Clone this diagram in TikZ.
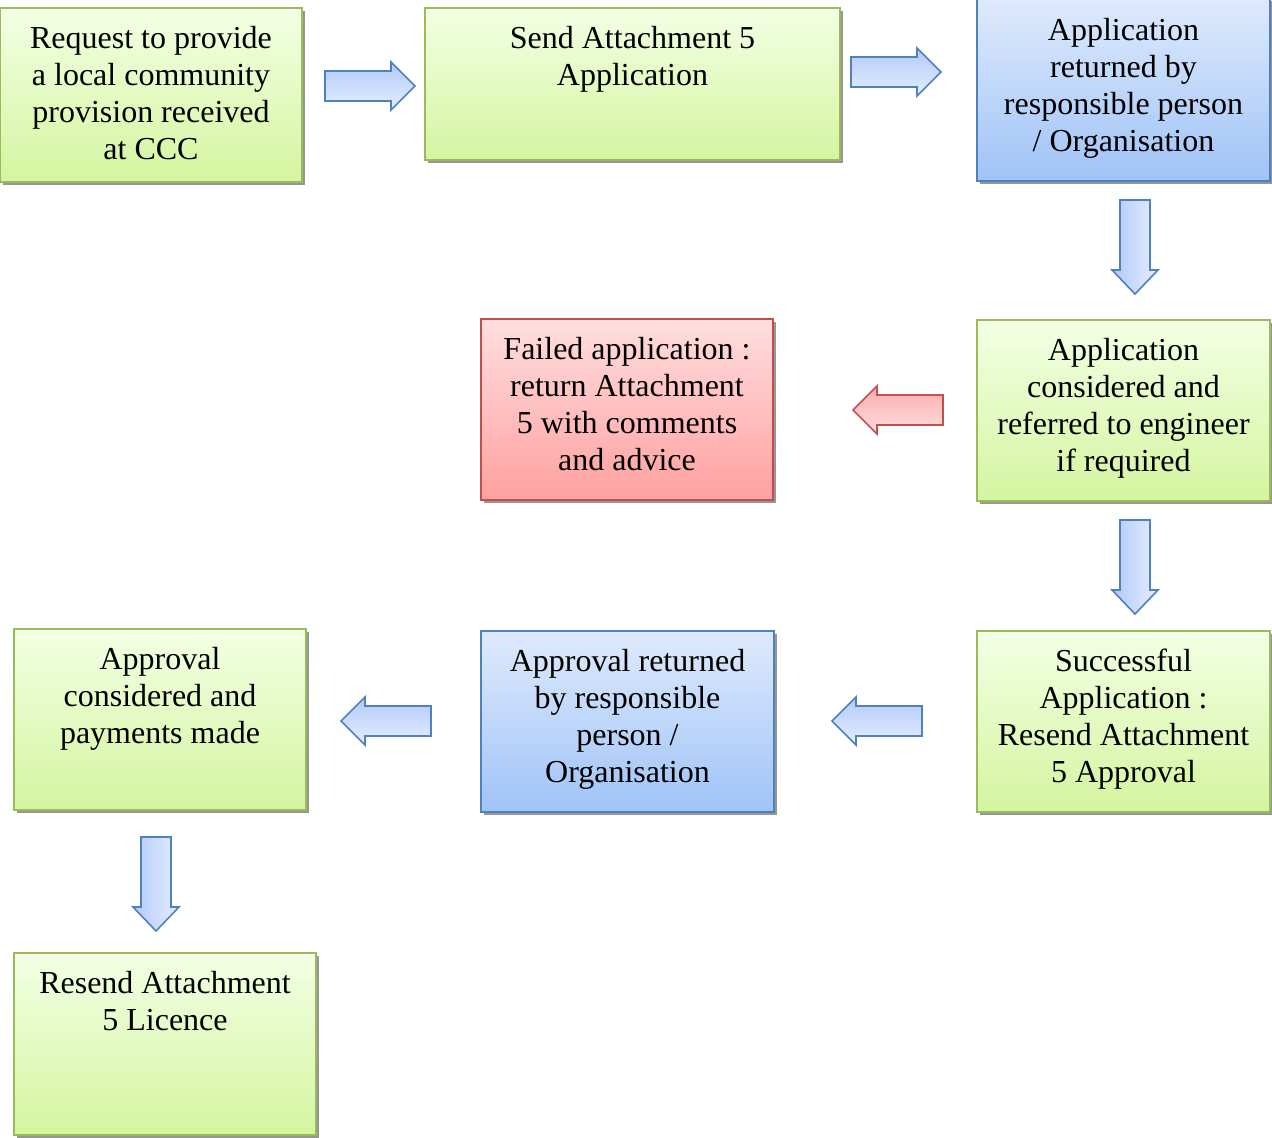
\documentclass[tikz,border=0pt]{standalone}
\usepackage{fontspec}
\setmainfont{Liberation Serif}
\usetikzlibrary{shadows}
\definecolor{gBorder}{RGB}{155,187,89}
\definecolor{gTop}{RGB}{243,255,228}
\definecolor{gBot}{RGB}{212,245,160}
\definecolor{bBorder}{RGB}{79,129,189}
\definecolor{bTop}{RGB}{222,234,252}
\definecolor{bBot}{RGB}{160,195,247}
\definecolor{rBorder}{RGB}{192,80,77}
\definecolor{rTop}{RGB}{255,222,222}
\definecolor{rBot}{RGB}{255,160,160}
\definecolor{aDark}{RGB}{178,202,248}
\definecolor{aLight}{RGB}{228,238,255}
\definecolor{raDark}{RGB}{250,172,172}
\definecolor{raLight}{RGB}{255,222,222}
\definecolor{shadowgray}{RGB}{150,150,150}
\tikzset{
  shd/.style={drop shadow={shadow xshift=3pt,shadow yshift=-3pt,fill=shadowgray,opacity=1}},
  boxbase/.style={rectangle,line width=1.6pt,inner sep=0pt,shd},
  gbox/.style={boxbase,draw=gBorder,top color=gTop,bottom color=gBot},
  bbox/.style={boxbase,draw=bBorder,top color=bTop,bottom color=bBot},
  rbox/.style={boxbase,draw=rBorder,top color=rTop,bottom color=rBot},
  txt/.style={anchor=north,align=center,inner sep=0pt,font=\fontsize{32}{37}\selectfont,yshift=-19pt},
  barr/.style={draw=bBorder,line width=1.6pt,line join=miter,drop shadow={shadow xshift=2.5pt,shadow yshift=-2.5pt,fill=shadowgray,opacity=1}},
  rarr/.pic={\path[pic actions] (-45,-15) -- (21,-15) -- (21,-24) -- (45,0) -- (21,24) -- (21,15) -- (-45,15) -- cycle;},
  larr/.pic={\path[pic actions] (45,-15) -- (-21,-15) -- (-21,-24) -- (-45,0) -- (-21,24) -- (-21,15) -- (45,15) -- cycle;},
  darr/.pic={\path[pic actions] (-15,-47) -- (-15,23) -- (-23,23) -- (0,47) -- (23,23) -- (15,23) -- (15,-47) -- cycle;},
}
\begin{document}
\begin{tikzpicture}[x=1pt,y=-1pt]
\useasboundingbox (0,0) rectangle (1272,1138);
% boxes
\node[gbox,minimum width=302pt,minimum height=174pt] (b1) at (151,95) {};
\node[gbox,minimum width=415pt,minimum height=152pt] (b2) at (632.5,84) {};
\node[bbox,minimum width=293pt,minimum height=183pt] (b3) at (1123.5,89.5) {};
\node[rbox,minimum width=292pt,minimum height=181pt] (b4) at (627,409.5) {};
\node[gbox,minimum width=293pt,minimum height=181pt] (b5) at (1123.5,410.5) {};
\node[gbox,minimum width=292pt,minimum height=181pt] (b6) at (160,719.5) {};
\node[bbox,minimum width=293pt,minimum height=181pt] (b7) at (627.5,721.5) {};
\node[gbox,minimum width=293pt,minimum height=181pt] (b8) at (1123.5,721.5) {};
\node[gbox,minimum width=302pt,minimum height=182pt] (b9) at (165,1044) {};
% texts
\node[txt] (t1) at (b1.north) {Request to provide\\a local community\\provision received\\at CCC};
\node[txt] (t2) at (b2.north) {Send Attachment 5\\Application};
\node[txt,yshift=-2pt] (t3) at (b3.north) {Application\\returned by\\responsible person\\/ Organisation};
\node[txt] (t4) at (b4.north) {Failed application :\\return Attachment\\5 with comments\\and advice};
\node[txt] (t5) at (b5.north) {Application\\considered and\\referred to engineer\\if required};
\node[txt] (t6) at (b6.north) {Approval\\considered and\\payments made};
\node[txt] (t7) at (b7.north) {Approval returned\\by responsible\\person /\\Organisation};
\node[txt] (t8) at (b8.north) {Successful\\Application :\\Resend Attachment\\5 Approval};
\node[txt] (t9) at (b9.north) {Resend Attachment\\5 Licence};
% block arrows
\pic[barr,top color=aDark,bottom color=aLight] (a1) at (370,86) {rarr};
\pic[barr,top color=aDark,bottom color=aLight] (a2) at (896,72) {rarr};
\pic[barr,left color=aDark,right color=aLight] (a3) at (1135,247) {darr};
\pic[barr,draw=rBorder,top color=raDark,bottom color=raLight] (a4) at (898,410) {larr};
\pic[barr,left color=aDark,right color=aLight] (a5) at (1135,567) {darr};
\pic[barr,top color=aDark,bottom color=aLight] (a6) at (877,721) {larr};
\pic[barr,top color=aDark,bottom color=aLight] (a7) at (386,721) {larr};
\pic[barr,left color=aDark,right color=aLight] (a8) at (156,884) {darr};
\end{tikzpicture}
\end{document}
